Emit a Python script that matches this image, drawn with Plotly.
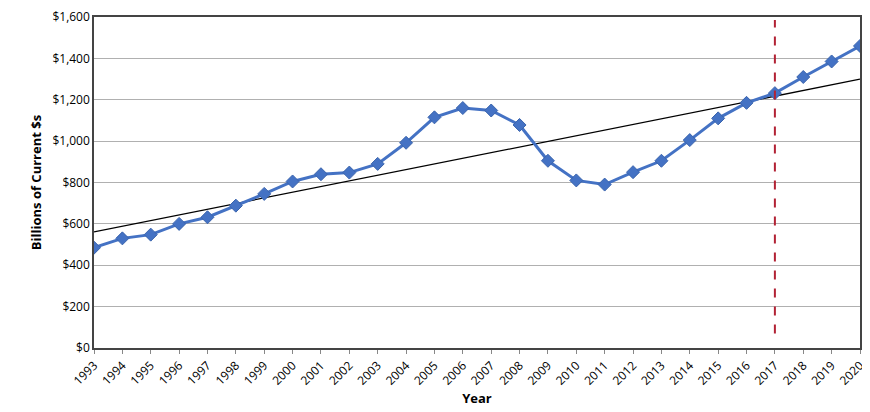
import numpy as np
import plotly.graph_objects as go

years = list(range(1993, 2021))
values = [485, 530, 548, 600, 632, 688, 745, 805, 840, 848, 890, 992, 1115, 1160,
          1148, 1078, 905, 810, 790, 850, 905, 1005, 1110, 1185, 1232, 1310, 1385, 1460]
y_ticks = [0, 200, 400, 600, 800, 1000, 1200, 1400, 1600]
y_labels = ["$0", "$200", "$400", "$600", "$800", "$1,000", "$1,200", "$1,400", "$1,600"]
marker_year = 2017

coef = np.polyfit(years, values, 1)
trend = [coef[0] * x + coef[1] for x in years]

fig = go.Figure()
fig.add_trace(go.Scatter(x=[years[0], years[-1]], y=[trend[0], trend[-1]], mode="lines",
                         line=dict(color="black", width=1.3), showlegend=False))
fig.add_trace(go.Scatter(x=years, y=values, mode="lines+markers",
                         line=dict(color="#4472C4", width=3),
                         marker=dict(symbol="diamond", size=10, color="#4472C4",
                                     line=dict(color="#3A64AD", width=1)),
                         showlegend=False))
fig.add_shape(type="line", x0=marker_year, x1=marker_year, y0=70, y1=1585,
              line=dict(color="#B22234", width=2, dash="dash"))
fig.update_layout(
    width=870, height=412, margin=dict(l=86, r=18, t=9, b=72),
    plot_bgcolor="white", paper_bgcolor="white",
    font=dict(family="Open Sans", color="black"),
)
fig.update_xaxes(range=[1993, 2020], tickvals=years, ticktext=[str(y) for y in years],
                 tickangle=-45, tickfont=dict(size=12, family="Open Sans"),
                 showgrid=False, ticks="outside", ticklen=4, tickcolor="#888",
                 showline=True, linecolor="#444", linewidth=1.5, mirror=True,
                 automargin=False,
                 title=dict(text="<b>Year</b>", font=dict(size=13), standoff=6))
fig.update_yaxes(range=[0, 1600], tickvals=y_ticks, ticktext=y_labels,
                 tickfont=dict(size=12, family="Open Sans"),
                 showgrid=True, gridcolor="#B0B0B0", gridwidth=1.3,
                 showline=True, linecolor="#444", linewidth=1.5, mirror=True,
                 zeroline=False, automargin=False,
                 title=dict(text="<b>Billions of Current $s</b>", font=dict(size=13), standoff=8))
fig.write_html("out.html")
